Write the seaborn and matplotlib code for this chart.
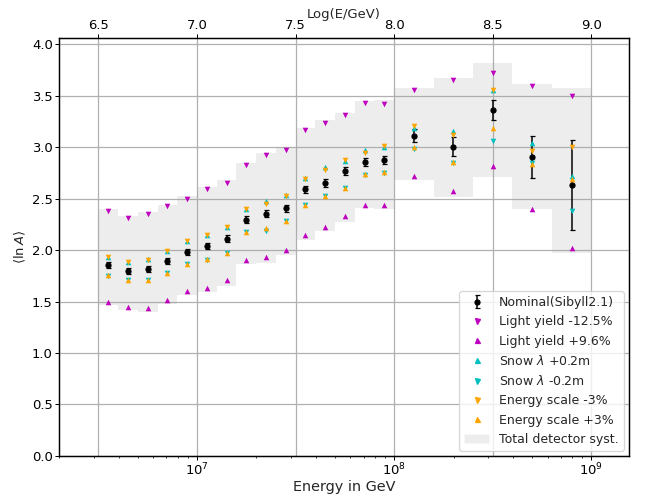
import numpy as np
import pandas as pd
import matplotlib
matplotlib.use("Agg")
import matplotlib.pyplot as plt
from matplotlib.patches import Patch
from matplotlib.lines import Line2D
import seaborn as sns

# ---- data -------------------------------------------------------------
log_e = [6.55, 6.65, 6.75, 6.85, 6.95, 7.05, 7.15, 7.25, 7.35, 7.45,
         7.55, 7.65, 7.75, 7.85, 7.95, 8.1, 8.3, 8.5, 8.7, 8.9]
bin_lo = [6.5, 6.6, 6.7, 6.8, 6.9, 7.0, 7.1, 7.2, 7.3, 7.4,
          7.5, 7.6, 7.7, 7.8, 7.9, 8.0, 8.2, 8.4, 8.6, 8.8]
bin_hi = [6.6, 6.7, 6.8, 6.9, 7.0, 7.1, 7.2, 7.3, 7.4, 7.5,
          7.6, 7.7, 7.8, 7.9, 8.0, 8.2, 8.4, 8.6, 8.8, 9.0]

nominal = [1.857, 1.800, 1.815, 1.893, 1.980, 2.037, 2.110, 2.296, 2.353, 2.408,
           2.592, 2.650, 2.770, 2.857, 2.874, 3.113, 3.006, 3.360, 2.906, 2.634]
nominal_err = [0.03, 0.03, 0.03, 0.03, 0.03, 0.03, 0.035, 0.035, 0.035, 0.035,
               0.035, 0.04, 0.04, 0.04, 0.04, 0.06, 0.09, 0.10, 0.205, 0.44]

ly_minus = [2.380, 2.310, 2.350, 2.425, 2.500, 2.590, 2.650, 2.825, 2.922, 2.974,
            3.165, 3.233, 3.310, 3.427, 3.420, 3.560, 3.650, 3.720, 3.600, 3.495]
ly_plus = [1.495, 1.450, 1.440, 1.515, 1.600, 1.634, 1.705, 1.908, 1.929, 1.997,
           2.142, 2.226, 2.336, 2.434, 2.443, 2.725, 2.570, 2.820, 2.404, 2.024]
snow_plus = [1.935, 1.883, 1.910, 1.993, 2.090, 2.146, 2.226, 2.398, 2.475, 2.534,
             2.696, 2.803, 2.864, 2.977, 3.006, 3.190, 3.159, 3.555, 3.039, 2.718]
snow_minus = [1.752, 1.705, 1.705, 1.773, 1.864, 1.903, 1.967, 2.178, 2.187, 2.278,
              2.443, 2.525, 2.600, 2.730, 2.750, 2.983, 2.850, 3.060, 2.850, 2.376]
escale_minus = [1.930, 1.883, 1.905, 1.990, 2.085, 2.146, 2.220, 2.398, 2.452, 2.530,
                2.690, 2.783, 2.880, 2.945, 3.010, 3.204, 3.120, 3.560, 2.965, 3.006]
escale_plus = [1.755, 1.705, 1.705, 1.773, 1.864, 1.910, 1.967, 2.178, 2.212, 2.278,
               2.443, 2.530, 2.607, 2.735, 2.760, 3.006, 2.854, 3.188, 2.840, 2.689]

syst_hi = [2.400, 2.330, 2.366, 2.443, 2.524, 2.610, 2.680, 2.848, 2.945, 3.003,
           3.190, 3.269, 3.330, 3.447, 3.456, 3.580, 3.676, 3.822, 3.618, 3.580]
syst_lo = [1.463, 1.417, 1.400, 1.473, 1.560, 1.592, 1.653, 1.867, 1.870, 1.951,
           2.094, 2.187, 2.275, 2.405, 2.404, 2.686, 2.518, 2.712, 2.398, 1.974]

top_ticks = [6.5, 7.0, 7.5, 8.0, 8.5, 9.0]

# ---- style --------------------------------------------------------------
sns.set_style("ticks")
plt.rcParams.update({
    'font.family': ['DejaVu Sans'],
    'font.size': 10,
    'xtick.labelsize': 10.5,
    'ytick.labelsize': 10.5,
    'axes.labelsize': 10.5,
    'legend.fontsize': 10,
    'axes.edgecolor': 'black',
    'axes.linewidth': 1.0,
    'xtick.color': 'black',
    'ytick.color': 'black',
    'xtick.major.size': 3,
    'ytick.major.size': 3,
    'xtick.minor.size': 1.8,
    'xtick.major.pad': 2,
    'ytick.major.pad': 2,
    'grid.color': '#b0b0b0',
    'grid.linewidth': 1.0,
})

energy = 10 ** np.array(log_e)

fig, ax = plt.subplots(figsize=(655 / 90, 496 / 90), dpi=90)
fig.subplots_adjust(left=0.09, right=0.96, bottom=0.081, top=0.923)

# total detector systematics boxes
box_left = 10 ** np.array(bin_lo)
box_w = 10 ** np.array(bin_hi) - box_left
ax.bar(box_left, np.array(syst_hi) - np.array(syst_lo), width=box_w,
       bottom=syst_lo, align='edge', color='#a0a0a0', alpha=0.18,
       linewidth=0, zorder=1)

ax.errorbar(energy, nominal, yerr=nominal_err, fmt='o', color='black',
            ms=4, capsize=2, elinewidth=1.2, capthick=1, zorder=3)

series = [
    (ly_minus, 'v', 'm'),
    (ly_plus, '^', 'm'),
    (snow_plus, '^', 'c'),
    (snow_minus, 'v', 'c'),
    (escale_minus, 'v', 'orange'),
    (escale_plus, '^', 'orange'),
]
for vals, mk, col in series:
    sns.scatterplot(x=energy, y=vals, marker=mk, color=col, s=20,
                    linewidth=0, ax=ax, zorder=4)

ax.set_xscale('log')
ax.set_xlim(10 ** 6.3, 10 ** 9.19)
ax.set_ylim(0, 4.06)
ax.set_yticks(np.arange(0, 4.01, 0.5))
ax.set_xlabel('Energy in GeV', fontsize=11.5, labelpad=1)
ax.set_ylabel(r'$\langle \ln A \rangle$', labelpad=3)
ax.grid(True, which='major', axis='y')
ax.set_axisbelow(True)

ax2 = ax.twiny()
ax2.set_xlim(np.log10(ax.get_xlim()))
ax2.set_xticks(top_ticks)
ax2.set_xlabel('Log(E/GeV)', labelpad=1)
ax2.grid(True, axis='x', zorder=0)
ax2.set_axisbelow(True)
ax2.set_zorder(0)
ax.set_zorder(1)
ax.patch.set_visible(False)

handles = [
    ax.containers[-1],
    Line2D([], [], marker='v', color='m', ls='', ms=4),
    Line2D([], [], marker='^', color='m', ls='', ms=4),
    Line2D([], [], marker='^', color='c', ls='', ms=4),
    Line2D([], [], marker='v', color='c', ls='', ms=4),
    Line2D([], [], marker='v', color='orange', ls='', ms=4),
    Line2D([], [], marker='^', color='orange', ls='', ms=4),
    Patch(facecolor='#a0a0a0', alpha=0.18),
]
labels = ['Nominal(Sibyll2.1)', 'Light yield -12.5%', 'Light yield +9.6%',
          r'Snow $\lambda$ +0.2m', r'Snow $\lambda$ -0.2m',
          'Energy scale -3%', 'Energy scale +3%', 'Total detector syst.']
ax.legend(handles, labels, loc='lower right', framealpha=0.8,
          handlelength=2, borderaxespad=0.4)

fig.savefig('out.png', dpi=90)
